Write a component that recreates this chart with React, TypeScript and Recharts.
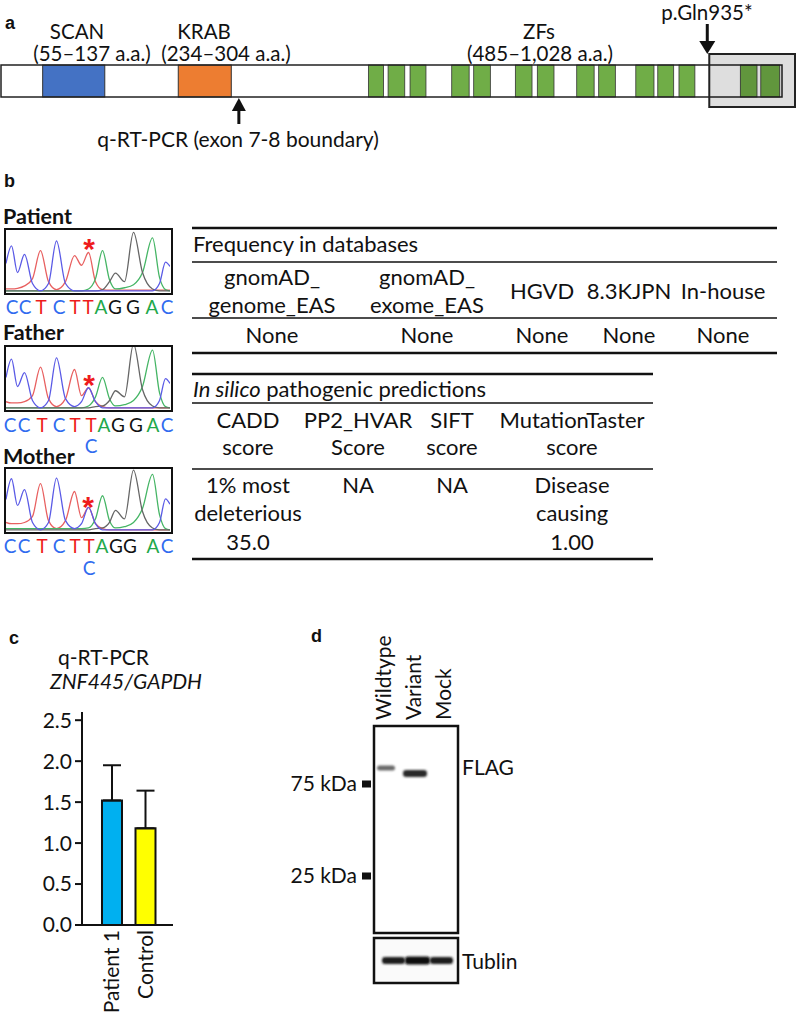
import React from 'react';
import { BarChart, Bar, XAxis, YAxis, Cell, ErrorBar, LineChart, Line } from 'recharts';

const FONT = 'Lato, "Open Sans", "DejaVu Sans", sans-serif';
const LABEL_FONT = '"Liberation Sans", Arial, sans-serif';

// ---------- Panel a: protein diagram ----------
const proteinLength = 1031;
const domainStarts = [55, 234];
const domainEnds = [137, 304];
const domainColors = ['#4472C4', '#ED7D31'];
const zfStarts = [485, 511, 540, 595, 624, 679, 708, 760, 789, 838, 867, 895, 976, 1003];
const zfEnds = [505, 533, 561, 618, 646, 701, 730, 783, 811, 862, 888, 916, 998, 1028];
const variantPos = 935;
const qpcrPos = 314;

// ---------- Panel b: chromatograms & tables ----------
const chromX = [6.5, 12, 18, 25, 33, 41, 49, 57, 66, 75, 82, 89, 96, 103, 110, 116, 125, 134, 143, 153, 160, 166, 170.5];

const patC = [0.45, 0.74, 0.3, 0.6, 0.12, 0, 0.12, 0.82, 0.12, 0, 0, 0, 0, 0, 0, 0, 0, 0, 0, 0, 0.12, 0.47, 0.4];
const patT = [0.03, 0.03, 0.04, 0.08, 0.2, 0.66, 0.15, 0.02, 0.15, 0.58, 0.42, 0.63, 0.15, 0.02, 0.01, 0.01, 0.01, 0.01, 0.01, 0.01, 0.01, 0.01, 0.01];
const patA = [0, 0, 0, 0, 0, 0, 0, 0, 0, 0, 0, 0.03, 0.2, 0.66, 0.18, 0.03, 0.05, 0.1, 0.3, 0.87, 0.22, 0.02, 0];
const patG = [0, 0, 0, 0, 0, 0, 0, 0, 0, 0, 0, 0, 0, 0.02, 0.15, 0.29, 0.15, 0.96, 0.3, 0.03, 0, 0, 0];

const fatC = [0.5, 0.8, 0.35, 0.58, 0.12, 0, 0.12, 0.82, 0.15, 0.02, 0.1, 0.33, 0.1, 0, 0, 0, 0, 0, 0, 0, 0.12, 0.48, 0.4];
const fatT = [0.1, 0.08, 0.08, 0.1, 0.2, 0.67, 0.15, 0.02, 0.15, 0.63, 0.2, 0.33, 0.1, 0.02, 0, 0, 0, 0, 0, 0, 0, 0, 0];
const fatA = [0, 0, 0, 0, 0, 0, 0, 0, 0, 0, 0, 0.03, 0.18, 0.5, 0.15, 0.03, 0.05, 0.12, 0.35, 0.95, 0.25, 0.02, 0];
const fatG = [0, 0, 0, 0, 0, 0, 0, 0, 0, 0, 0, 0, 0.02, 0.03, 0.12, 0.28, 0.18, 1.05, 0.3, 0.03, 0, 0, 0];

const motC = [0.5, 0.84, 0.4, 0.66, 0.12, 0, 0.12, 0.85, 0.15, 0.02, 0.1, 0.37, 0.1, 0, 0, 0, 0, 0, 0, 0, 0.12, 0.51, 0.42];
const motT = [0.12, 0.1, 0.1, 0.12, 0.22, 0.76, 0.15, 0.02, 0.15, 0.63, 0.2, 0.37, 0.1, 0.02, 0, 0, 0, 0, 0, 0, 0, 0, 0];
const motA = [0.02, 0.02, 0.02, 0.02, 0.02, 0.02, 0.02, 0.02, 0.02, 0.02, 0.02, 0.03, 0.18, 0.56, 0.15, 0.03, 0.05, 0.12, 0.35, 0.91, 0.25, 0.02, 0];
const motG = [0, 0, 0, 0, 0, 0, 0, 0, 0, 0, 0, 0, 0.02, 0.03, 0.12, 0.32, 0.18, 0.98, 0.3, 0.03, 0, 0, 0];

const seqBases = ['C', 'C', 'T', 'C', 'T', 'T', 'A', 'G', 'G', 'A', 'C'];
const patLetterX = [12, 25, 41, 59, 75, 88, 101, 115, 133, 152, 167];
const fatLetterX = [10, 24, 42, 59, 75, 91, 104, 118, 136, 153, 167];
const motLetterX = [10, 24, 42, 59, 75, 89, 102, 116, 130, 153, 167];

const freqHeadLine1 = ['gnomAD_', 'gnomAD_', '', '', ''];
const freqHeadLine2 = ['genome_EAS', 'exome_EAS', '', '', ''];
const freqHeadSingle = ['', '', 'HGVD', '8.3KJPN', 'In-house'];
const freqValues = ['None', 'None', 'None', 'None', 'None'];
const freqColX = [272, 427, 542, 629, 723];

const predHead1 = ['CADD', 'PP2_HVAR', 'SIFT', 'MutationTaster'];
const predHead2 = ['score', 'Score', 'score', 'score'];
const predVal1 = ['1% most', 'NA', 'NA', 'Disease'];
const predVal2 = ['deleterious', '', '', 'causing'];
const predVal3 = ['35.0', '', '', '1.00'];
const predColX = [248, 358, 452, 572];

// ---------- Panel c: q-RT-PCR bars ----------
const qCategories = ['Patient 1', 'Control'];
const qMeans = [1.52, 1.18];
const qErrors = [0.43, 0.46];
const qColors = ['#00B0F0', '#FFFF00'];
const qTicks = [0, 0.5, 1, 1.5, 2, 2.5];

// ---------- Panel d: western blot ----------
const laneNames = ['Wildtype', 'Variant', 'Mock'];
const laneX = [383, 413, 443];
const markerLabels = ['75 kDa', '25 kDa'];
const markerY = [784, 876];

const baseColor = (b: string) => (b === 'C' ? '#2F6BEF' : b === 'T' ? '#EE1C1C' : b === 'A' ? '#22A84A' : '#111');

const px = (aa: number) => 1 + (aa * 781) / proteinLength;

function Chromatogram({ left, top, c, t, a, g }: any) {
  const data = chromX.map((x, i) => ({ x, c: c[i], t: t[i], a: a[i], g: g[i] }));
  return (
    <div style={{ position: 'absolute', left, top, width: 169, height: 67, border: '2.5px solid #111', boxSizing: 'border-box', background: '#fff', overflow: 'hidden' }}>
      <LineChart width={164} height={62} data={data} margin={{ top: 0, right: 0, bottom: 0, left: 0 }}>
        <XAxis dataKey="x" type="number" domain={[6.5, 170.5]} hide allowDataOverflow />
        <YAxis type="number" domain={[-0.02, 1]} hide allowDataOverflow />
        <Line type="monotone" dataKey="t" stroke="#E86060" strokeWidth={1.3} dot={false} isAnimationActive={false} />
        <Line type="monotone" dataKey="a" stroke="#45B565" strokeWidth={1.3} dot={false} isAnimationActive={false} />
        <Line type="monotone" dataKey="g" stroke="#666" strokeWidth={1.3} dot={false} isAnimationActive={false} />
        <Line type="monotone" dataKey="c" stroke="#5A5AE6" strokeWidth={1.3} dot={false} isAnimationActive={false} />
      </LineChart>
    </div>
  );
}

const RotTick = (props: any) => {
  const { x, y, payload } = props;
  return (
    <text transform={`translate(${x},${y + 5}) rotate(-90)`} textAnchor="end" dy="0.36em" fontSize={21} fontFamily={FONT} fill="#111">
      {payload.value}
    </text>
  );
};

function Letters({ xs, baseline }: any) {
  return (
    <g>
      {seqBases.map((b, i) => (
        <text key={i} x={xs[i]} y={baseline} textAnchor="middle" fontSize={19} fontFamily={FONT} fill={baseColor(b)}>
          {b}
        </text>
      ))}
    </g>
  );
}

export default function App() {
  const qData = qCategories.map((name, i) => ({ name, value: qMeans[i], err: [0, qErrors[i]] }));
  const txt = { fontFamily: FONT, fontSize: 22, fill: '#111' } as any;
  const txt21 = { fontFamily: FONT, fontSize: 21, fill: '#111' } as any;
  const txt20 = { fontFamily: FONT, fontSize: 20.5, fill: '#111' } as any;

  return (
    <div style={{ position: 'absolute', left: 0, top: 0, width: 797, height: 1015, background: '#fff', overflow: 'hidden' }}>
      {/* chromatograms */}
      <Chromatogram left={4} top={228} c={patC} t={patT} a={patA} g={patG} />
      <Chromatogram left={4} top={345} c={fatC} t={fatT} a={fatA} g={fatG} />
      <Chromatogram left={4} top={467} c={motC} t={motT} a={motA} g={motG} />

      {/* panel c bar chart */}
      <div style={{ position: 'absolute', left: 0, top: 690 }}>
        <BarChart width={200} height={325} data={qData} margin={{ top: 22, right: 27, bottom: 0, left: 0 }}>
          <XAxis
            dataKey="name"
            height={90}
            padding={{ left: 13, right: 11 }}
            axisLine={{ stroke: '#111', strokeWidth: 2 }}
            tickLine={false}
            tickSize={0}
            tickMargin={0}
            interval={0}
            tick={<RotTick />}
          />
          <YAxis
            width={82}
            type="number"
            domain={[0, 2.6]}
            ticks={qTicks}
            tickFormatter={(v: number) => v.toFixed(1)}
            axisLine={{ stroke: '#111', strokeWidth: 2 }}
            tickLine={{ stroke: '#111', strokeWidth: 2 }}
            tickSize={7}
            tickMargin={3}
            tick={{ fontSize: 21, fontFamily: FONT, fill: '#111' }}
          />
          <Bar dataKey="value" barSize={20} stroke="#111" strokeWidth={2} isAnimationActive={false}>
            {qData.map((d, i) => (
              <Cell key={d.name} fill={qColors[i]} />
            ))}
            <ErrorBar dataKey="err" width={9} stroke="#111" strokeWidth={2} direction="y" />
          </Bar>
        </BarChart>
      </div>

      {/* overlay */}
      <svg width={797} height={1015} style={{ position: 'absolute', left: 0, top: 0, pointerEvents: 'none' }}>
        <defs>
          <filter id="blur1" x="-20%" y="-100%" width="140%" height="300%">
            <feGaussianBlur stdDeviation="1.1" />
          </filter>
        </defs>

        {/* ===== panel a ===== */}
        <text x={5} y={29} fontFamily={LABEL_FONT} fontWeight="bold" fontSize={18} fill="#111">a</text>
        <rect x={px(0)} y={65} width={px(proteinLength) - px(0)} height={32} fill="#fff" />
        {domainStarts.map((s, i) => (
          <rect key={'d' + i} x={px(s)} y={65} width={px(domainEnds[i]) - px(s)} height={32} fill={domainColors[i]} stroke="#333" strokeWidth={1} />
        ))}
        {zfStarts.map((s, i) => (
          <rect key={'z' + i} x={px(s)} y={65} width={px(zfEnds[i]) - px(s)} height={32} fill="#70AD47" stroke="#333" strokeWidth={0.8} />
        ))}
        <rect x={px(0)} y={65} width={px(proteinLength) - px(0)} height={32} fill="none" stroke="#222" strokeWidth={1.5} />
        <rect x={px(variantPos)} y={54} width={795 - px(variantPos)} height={53} fill="rgba(0,0,0,0.13)" stroke="#222" strokeWidth={2} />

        <text x={77} y={39} textAnchor="middle" {...txt20}>SCAN</text>
        <text x={92} y={61} textAnchor="middle" {...txt20}>(55–137 a.a.)</text>
        <text x={204} y={39} textAnchor="middle" {...txt20}>KRAB</text>
        <text x={226} y={61} textAnchor="middle" {...txt20}>(234–304 a.a.)</text>
        <text x={539} y={39} textAnchor="middle" {...txt20}>ZFs</text>
        <text x={540} y={61} textAnchor="middle" {...txt20}>(485–1,028 a.a.)</text>
        <text x={707} y={20} textAnchor="middle" {...txt20}>p.Gln935*</text>
        {/* mutation arrow */}
        <line x1={px(variantPos) - 2} y1={24} x2={px(variantPos) - 2} y2={44} stroke="#111" strokeWidth={3} />
        <polygon points={`${px(variantPos) - 10},41 ${px(variantPos) + 6},41 ${px(variantPos) - 2},54`} fill="#111" />
        {/* qPCR arrow */}
        <polygon points={`${px(qpcrPos)},98 ${px(qpcrPos) - 7},111 ${px(qpcrPos) + 7},111`} fill="#111" />
        <line x1={px(qpcrPos)} y1={108} x2={px(qpcrPos)} y2={124} stroke="#111" strokeWidth={3} />
        <text x={238} y={147} textAnchor="middle" {...txt21}>q-RT-PCR (exon 7-8 boundary)</text>

        {/* ===== panel b ===== */}
        <text x={4} y={187} fontFamily={LABEL_FONT} fontWeight="bold" fontSize={18} fill="#111">b</text>
        <text x={3} y={224} fontFamily={FONT} fontWeight="bold" fontSize={21.5} fill="#111">Patient</text>
        <text x={3} y={340} fontFamily={FONT} fontWeight="bold" fontSize={21.5} fill="#111">Father</text>
        <text x={3} y={464} fontFamily={FONT} fontWeight="bold" fontSize={21.5} fill="#111">Mother</text>

        <Letters xs={patLetterX} baseline={314} />
        <Letters xs={fatLetterX} baseline={432} />
        <text x={fatLetterX[5]} y={453} textAnchor="middle" fontSize={19} fontFamily={FONT} fill={baseColor('C')}>C</text>
        <Letters xs={motLetterX} baseline={553} />
        <text x={motLetterX[5]} y={575} textAnchor="middle" fontSize={19} fontFamily={FONT} fill={baseColor('C')}>C</text>

        <text x={89} y={259} textAnchor="middle" fontFamily={LABEL_FONT} fontWeight="bold" fontSize={30} fill="#EE1C1C">*</text>
        <text x={89} y={395} textAnchor="middle" fontFamily={LABEL_FONT} fontWeight="bold" fontSize={30} fill="#EE1C1C">*</text>
        <text x={88} y={517} textAnchor="middle" fontFamily={LABEL_FONT} fontWeight="bold" fontSize={30} fill="#EE1C1C">*</text>

        {/* table 1 */}
        <line x1={192} x2={777} y1={228} y2={228} stroke="#111" strokeWidth={2.5} />
        <text x={193} y={252} {...txt}>Frequency in databases</text>
        <line x1={192} x2={777} y1={262} y2={262} stroke="#111" strokeWidth={1.5} />
        {freqColX.map((x, i) => (
          <g key={'f' + i}>
            {freqHeadLine1[i] && <text x={x} y={285} textAnchor="middle" {...txt}>{freqHeadLine1[i]}</text>}
            {freqHeadLine2[i] && <text x={x} y={313} textAnchor="middle" {...txt}>{freqHeadLine2[i]}</text>}
            {freqHeadSingle[i] && <text x={x} y={299} textAnchor="middle" {...txt}>{freqHeadSingle[i]}</text>}
            <text x={x} y={343} textAnchor="middle" {...txt}>{freqValues[i]}</text>
          </g>
        ))}
        <line x1={192} x2={777} y1={318} y2={318} stroke="#111" strokeWidth={1.5} />
        <line x1={192} x2={777} y1={353} y2={353} stroke="#111" strokeWidth={2.5} />

        {/* table 2 */}
        <line x1={192} x2={653} y1={374} y2={374} stroke="#111" strokeWidth={2.5} />
        <text x={193} y={397} {...txt}>
          <tspan fontStyle="italic">In silico</tspan> pathogenic predictions
        </text>
        <line x1={192} x2={653} y1={403} y2={403} stroke="#111" strokeWidth={1.5} />
        {predColX.map((x, i) => (
          <g key={'p' + i}>
            <text x={x} y={428} textAnchor="middle" {...txt}>{predHead1[i]}</text>
            <text x={x} y={455} textAnchor="middle" {...txt}>{predHead2[i]}</text>
            <text x={x} y={493} textAnchor="middle" {...txt}>{predVal1[i]}</text>
            {predVal2[i] && <text x={x} y={521} textAnchor="middle" {...txt}>{predVal2[i]}</text>}
            {predVal3[i] && <text x={x} y={550} textAnchor="middle" {...txt}>{predVal3[i]}</text>}
          </g>
        ))}
        <line x1={192} x2={653} y1={469} y2={469} stroke="#111" strokeWidth={1.5} />
        <line x1={192} x2={653} y1={559} y2={559} stroke="#111" strokeWidth={2.5} />

        {/* ===== panel c titles ===== */}
        <text x={9} y={644} fontFamily={LABEL_FONT} fontWeight="bold" fontSize={18} fill="#111">c</text>
        <text x={58} y={665} {...txt21}>q-RT-PCR</text>
        <text x={50} y={689} {...txt21} fontStyle="italic">ZNF445/GAPDH</text>

        {/* ===== panel d ===== */}
        <text x={311} y={642} fontFamily={LABEL_FONT} fontWeight="bold" fontSize={18} fill="#111">d</text>
        {laneNames.map((n, i) => (
          <text key={n} transform={`translate(${laneX[i]},720) rotate(-90)`} dy="0.36em" {...txt21}>{n}</text>
        ))}
        <rect x={374} y={726} width={84} height={207} fill="#fff" stroke="#111" strokeWidth={2.5} />
        <rect x={374} y={938} width={84} height={45} fill="#fafafa" stroke="#111" strokeWidth={2.5} />
        {/* bands */}
        <rect x={377} y={765.5} width={18} height={5} rx={2.5} fill="#6a6a6a" filter="url(#blur1)" />
        <rect x={403} y={770} width={24} height={7} rx={3} fill="#2a2a2a" filter="url(#blur1)" />
        <rect x={382} y={957} width={23} height={7} rx={3} fill="#1a1a1a" filter="url(#blur1)" />
        <rect x={405} y={956.5} width={25} height={8} rx={3} fill="#111" filter="url(#blur1)" />
        <rect x={430} y={957} width={23} height={7} rx={3} fill="#1a1a1a" filter="url(#blur1)" />
        <text x={462} y={775} {...txt21}>FLAG</text>
        <text x={462} y={969} {...txt21}>Tublin</text>
        {markerLabels.map((m, i) => (
          <g key={m}>
            <text x={357} y={markerY[i] + 7} textAnchor="end" {...txt21}>{m}</text>
            <rect x={362} y={markerY[i] - 3.5} width={9} height={7} fill="#111" />
          </g>
        ))}
      </svg>
    </div>
  );
}
